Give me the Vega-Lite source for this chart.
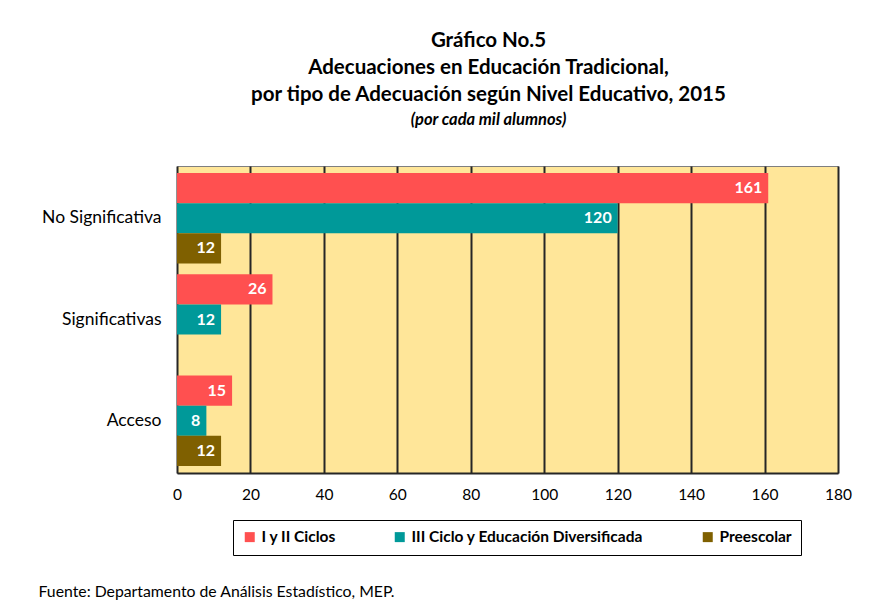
{
  "$schema": "https://vega.github.io/schema/vega-lite/v6.json",
  "autosize": {"type": "none"},
  "width": 661,
  "height": 307,
  "padding": {"left": 177, "top": 166, "right": 37, "bottom": 143},
  "background": "white",
  "config": {
    "font": "Lato",
    "view": {"fill": "#FFE699", "stroke": "#7f7f7f", "strokeWidth": 1}
  },
  "title": {
    "text": ["Gráfico No.5", "Adecuaciones en Educación Tradicional,", "por tipo de Adecuación según Nivel Educativo, 2015"],
    "subtitle": "(por cada mil alumnos)",
    "font": "Lato",
    "fontSize": 20.5,
    "fontWeight": "bold",
    "color": "#000000",
    "lineHeight": 27,
    "subtitleFont": "Lato",
    "subtitleFontSize": 16.5,
    "subtitleFontStyle": "italic",
    "subtitleFontWeight": "bold",
    "subtitleColor": "#000000",
    "subtitlePadding": 6,
    "anchor": "middle",
    "frame": "group",
    "dx": -19,
    "offset": 38
  },
  "data": {
    "values": [
      {"tipo": "No Significativa", "nivel": "I y II Ciclos", "valor": 161},
      {"tipo": "No Significativa", "nivel": "III Ciclo y Educación Diversificada", "valor": 120},
      {"tipo": "No Significativa", "nivel": "Preescolar", "valor": 12},
      {"tipo": "Significativas", "nivel": "I y II Ciclos", "valor": 26},
      {"tipo": "Significativas", "nivel": "III Ciclo y Educación Diversificada", "valor": 12},
      {"tipo": "Acceso", "nivel": "I y II Ciclos", "valor": 15},
      {"tipo": "Acceso", "nivel": "III Ciclo y Educación Diversificada", "valor": 8},
      {"tipo": "Acceso", "nivel": "Preescolar", "valor": 12}
    ]
  },
  "encoding": {
    "y": {
      "field": "tipo",
      "type": "nominal",
      "sort": ["No Significativa", "Significativas", "Acceso"],
      "scale": {"paddingInner": 0.108, "paddingOuter": 0.07},
      "axis": {
        "title": null,
        "ticks": false,
        "domain": false,
        "labelFontSize": 17.5,
        "labelColor": "#000000",
        "labelPadding": 16
      }
    },
    "yOffset": {
      "field": "nivel",
      "type": "nominal",
      "scale": {"domain": ["I y II Ciclos", "III Ciclo y Educación Diversificada", "Preescolar"], "paddingInner": 0, "paddingOuter": 0}
    },
    "x": {
      "field": "valor",
      "type": "quantitative",
      "scale": {"domain": [0, 180], "nice": false},
      "axis": {
        "values": [0, 20, 40, 60, 80, 100, 120, 140, 160, 180],
        "grid": true,
        "gridColor": "#262626",
        "gridWidth": 2,
        "gridOpacity": 1,
        "ticks": false,
        "domain": true,
        "domainColor": "#262626",
        "domainWidth": 2,
        "labelFontSize": 15.5,
        "labelColor": "#000000",
        "labelPadding": 14,
        "labelFlush": false,
        "title": "Fuente:  Departamento de Análisis Estadístico, MEP.",
        "titleFontSize": 15.8,
        "titleFontWeight": "normal",
        "titleColor": "#000000",
        "titleAnchor": "start",
        "titleAlign": "left",
        "titleBaseline": "alphabetic",
        "titleX": -139,
        "titleY": 123
      }
    }
  },
  "layer": [
    {
      "mark": {"type": "bar"},
      "encoding": {
        "color": {
          "field": "nivel",
          "type": "nominal",
          "scale": {
            "domain": ["I y II Ciclos", "III Ciclo y Educación Diversificada", "Preescolar"],
            "range": ["#FF5050", "#009999", "#7F6000"]
          },
          "legend": {
            "title": null,
            "orient": "none",
            "legendX": 56,
            "legendY": 354,
            "direction": "horizontal",
            "symbolType": "square",
            "symbolSize": 100,
            "symbolStrokeWidth": 0,
            "labelFontSize": 15.5,
            "labelFontWeight": "bold",
            "labelColor": "#000000",
            "labelLimit": 400,
            "columnPadding": 56,
            "strokeColor": "#000000",
            "fillColor": "#ffffff",
            "padding": 9,
            "labelOffset": 4
          }
        }
      }
    },
    {
      "mark": {"type": "text", "align": "right", "dx": -6, "fontSize": 16, "fontWeight": "bold", "color": "#ffffff"},
      "encoding": {
        "text": {"field": "valor", "type": "quantitative"}
      }
    }
  ]
}
